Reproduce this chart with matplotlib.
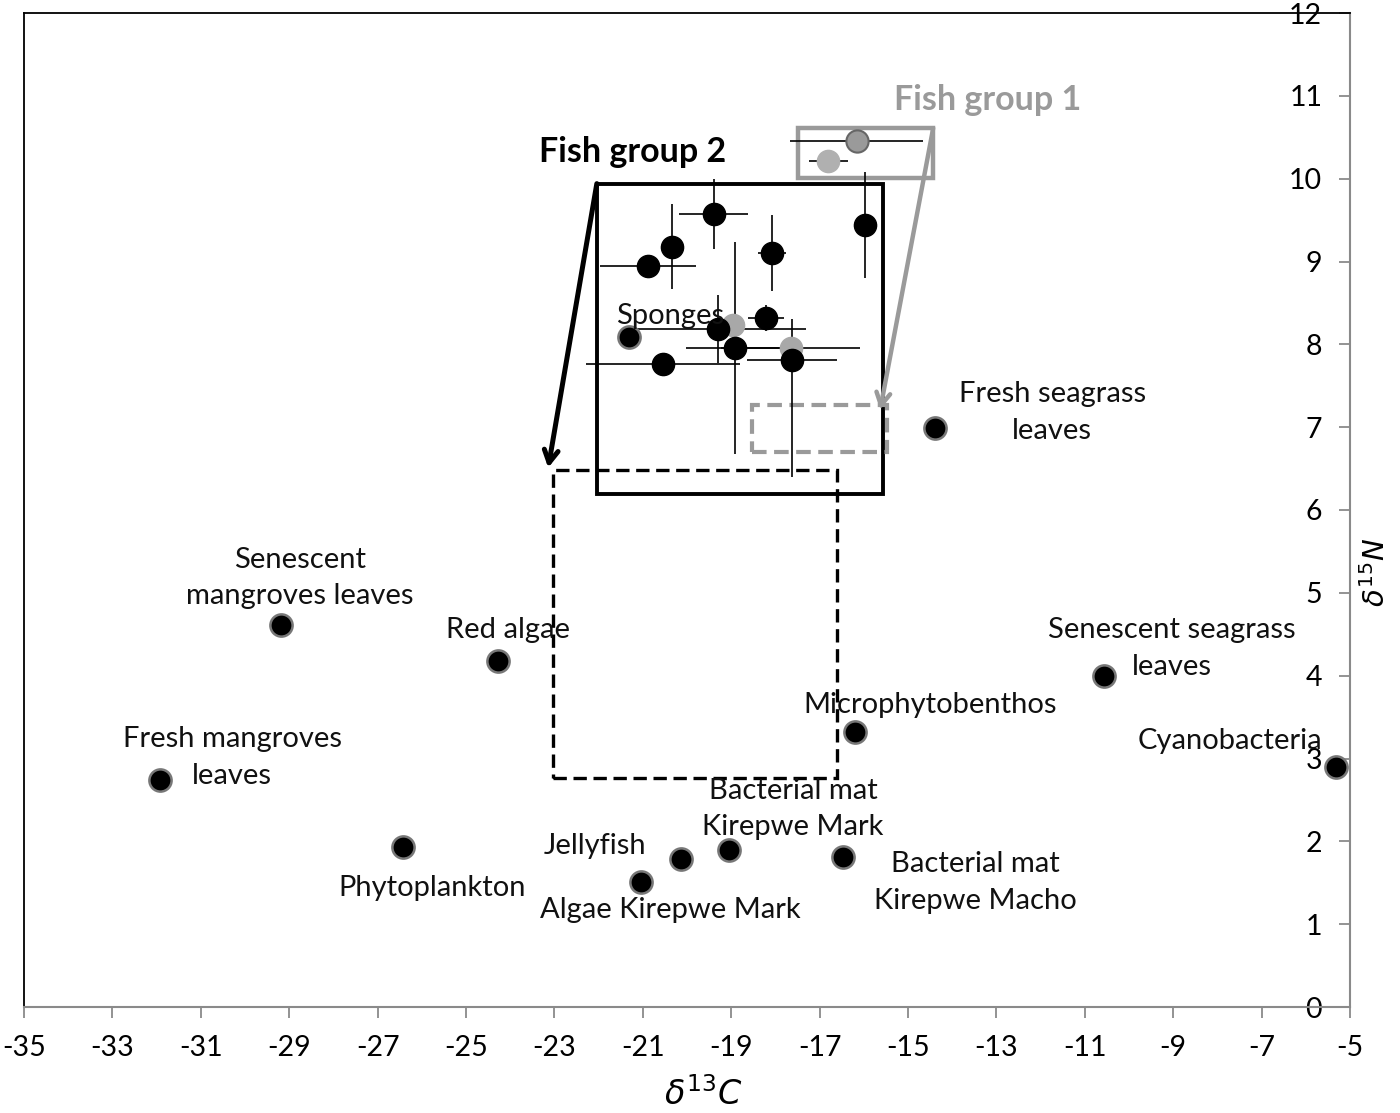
import matplotlib
matplotlib.use("Agg")
import matplotlib.pyplot as plt
from matplotlib.patches import Rectangle

plt.rcParams['font.family'] = ['Lato', 'DejaVu Sans']

# ---------------- data ----------------
src_names = ["Fresh mangroves leaves", "Senescent mangroves leaves", "Red algae",
             "Phytoplankton", "Algae Kirepwe Mark", "Jellyfish",
             "Bacterial mat Kirepwe Mark", "Bacterial mat Kirepwe Macho",
             "Microphytobenthos", "Fresh seagrass leaves", "Senescent seagrass leaves",
             "Cyanobacteria", "Sponges"]
src_c = [-31.92, -29.19, -24.28, -26.43, -21.04, -20.14, -19.05, -16.47,
         -16.20, -14.39, -10.57, -5.32, -21.31]
src_n = [2.74, 4.61, 4.18, 1.93, 1.51, 1.79, 1.90, 1.81,
         3.32, 6.99, 4.00, 2.90, 8.09]

# fish group 2 (black)
fg2_c = [-19.40, -20.33, -20.88, -18.08, -15.97, -18.21, -19.29, -18.91, -17.62, -20.54]
fg2_n = [9.57, 9.18, 8.95, 9.10, 9.44, 8.32, 8.18, 7.96, 7.81, 7.76]
fg2_cerr = [0.78, 0.0, 1.09, 0.31, 0.0, 0.41, 1.98, 1.11, 1.02, 1.74]
fg2_nerr_lo = [0.42, 0.51, 0.0, 0.46, 0.64, 0.16, 0.41, 1.28, 1.41, 0.12]
fg2_nerr_hi = [0.42, 0.51, 0.0, 0.46, 0.64, 0.16, 0.41, 1.28, 0.50, 0.12]

# grey fish points inside group 2 box
grey_c = [-18.95, -17.65]
grey_n = [8.23, 7.96]
grey_cerr = [0.0, 1.57]

# fish group 1
fg1_c = [-16.16, -16.80]
fg1_n = [10.45, 10.21]
fg1_cerr = [1.51, 0.45]

x_ticks = list(range(-35, -4, 2))
y_ticks = list(range(0, 13))

# label texts and positions (data coords, centered)
label_text = ["Fresh mangroves\nleaves", "Senescent\nmangroves leaves", "Red algae",
              "Phytoplankton", "Algae Kirepwe Mark", "Jellyfish",
              "Bacterial mat\nKirepwe Mark", "Bacterial mat\nKirepwe Macho",
              "Microphytobenthos", "Fresh seagrass\nleaves", "Senescent seagrass\nleaves",
              "Cyanobacteria", "Sponges"]
label_pos = [(-30.29, 3.01), (-28.76, 5.18), (-24.05, 4.55),
             (-25.77, 1.44), (-20.38, 1.17), (-22.08, 1.94),
             (-17.60, 2.39), (-13.48, 1.50),
             (-14.50, 3.65), (-11.74, 7.18), (-9.03, 4.33),
             (-7.71, 3.21), (-20.38, 8.34)]

# ---------------- figure ----------------
fig = plt.figure(figsize=(14, 11.13), dpi=100)
ax = fig.add_axes([24/1400, 1 - 1007/1113, (1350-24)/1400, (1007-13)/1113])
ax.set_xlim(-35, -5)
ax.set_ylim(0, 12)

# spines
for s in ['left', 'top']:
    ax.spines[s].set_color('black')
    ax.spines[s].set_linewidth(1.3)
for s in ['bottom', 'right']:
    ax.spines[s].set_color('#8a8a8a')
    ax.spines[s].set_linewidth(1.5)

ax.set_xticks(x_ticks)
ax.set_xticklabels([str(v) for v in x_ticks])
ax.tick_params(axis='x', direction='out', length=8, width=1.3, color='#8a8a8a',
               labelsize=20.5, pad=12)
ax.yaxis.tick_right()
ax.set_yticks(y_ticks)
ax.set_yticklabels([str(v) for v in y_ticks])
ax.tick_params(axis='y', direction='in', length=8, width=1.3, color='#8a8a8a',
               labelsize=20.5, pad=-20)
for t in ax.get_yticklabels():
    t.set_horizontalalignment('right')

ax.set_xlabel(r'$\delta^{13}C$', fontsize=24)
ax.xaxis.set_label_coords(0.512, -0.087)
ax.xaxis.label.set_va('center')
ax.yaxis.set_label_position('right')
ax.set_ylabel(r'$\delta^{15}N$', fontsize=21, rotation=90)
ax.yaxis.set_label_coords(1.019, 0.4376)
ax.yaxis.label.set_va('center')
ax.yaxis.label.set_ha('center')

# boxes
ax.add_patch(Rectangle((-22.04, 6.19), -15.57 - -22.04, 9.94 - 6.19, fill=False,
                       ec='black', lw=2.8, zorder=2))
ax.add_patch(Rectangle((-23.03, 2.76), -16.61 - -23.03, 6.48 - 2.76, fill=False,
                       ec='black', lw=2.4, ls=(0, (4, 2)), zorder=2))
ax.add_patch(Rectangle((-17.49, 10.01), -14.43 - -17.49, 10.61 - 10.01, fill=False,
                       ec='#9a9a9a', lw=3.2, zorder=2))
ax.add_patch(Rectangle((-18.53, 6.70), -15.48 - -18.53, 7.27 - 6.70, fill=False,
                       ec='#9a9a9a', lw=3.0, ls=(0, (3.5, 1.8)), zorder=2))

# arrows
ax.annotate('', xy=(-23.14, 6.51), xytext=(-22.04, 9.94),
            arrowprops=dict(arrowstyle='->,head_length=0.9,head_width=0.5',
                            color='black', lw=3.6, shrinkA=0, shrinkB=0), zorder=3)
ax.annotate('', xy=(-15.63, 7.21), xytext=(-14.43, 10.61),
            arrowprops=dict(arrowstyle='->,head_length=0.9,head_width=0.5',
                            color='#9a9a9a', lw=3.2, shrinkA=0, shrinkB=0), zorder=3)

# error bars
ax.errorbar(fg2_c, fg2_n, xerr=fg2_cerr, yerr=[fg2_nerr_lo, fg2_nerr_hi], fmt='none',
            ecolor='black', elinewidth=1.2, capsize=0, zorder=4)
ax.errorbar(grey_c, grey_n, xerr=grey_cerr, fmt='none',
            ecolor='black', elinewidth=1.2, capsize=0, zorder=4)
ax.errorbar(fg1_c, fg1_n, xerr=fg1_cerr, fmt='none',
            ecolor='black', elinewidth=1.2, capsize=0, zorder=4)

# points
ax.plot(grey_c, grey_n, 'o', ms=16, mfc='#a8a8a8', mec='#a8a8a8', zorder=5)
ax.plot(fg2_c, fg2_n, 'o', ms=16, mfc='black', mec='black', zorder=6)
ax.plot(fg1_c[:1], fg1_n[:1], 'o', ms=16, mfc='#9a9a9a', mec='#666666', mew=1.5, zorder=6)
ax.plot(fg1_c[1:], fg1_n[1:], 'o', ms=16, mfc='#b0b0b0', mec='#b0b0b0', zorder=6)
ax.plot(src_c, src_n, 'o', ms=16, mfc='black', mec='#777777', mew=1.8, zorder=6,
        clip_on=False)

# labels
for txt, (lx, ly) in zip(label_text, label_pos):
    ax.text(lx, ly, txt, ha='center', va='center', fontsize=21, color='#111111',
            linespacing=1.5, zorder=7)

ax.text(-21.22, 10.32, 'Fish group 2', ha='center', va='center', fontsize=24.5,
        fontweight='bold', color='black', zorder=7)
ax.text(-13.19, 10.95, 'Fish group 1', ha='center', va='center', fontsize=24.5,
        fontweight='bold', color='#9a9a9a', zorder=7)

fig.savefig('out.png', dpi=100)
